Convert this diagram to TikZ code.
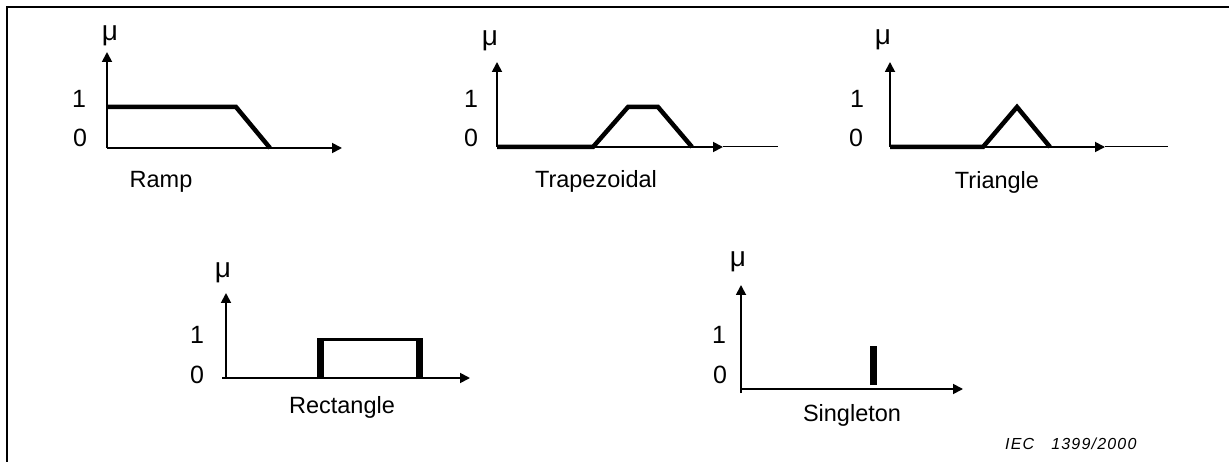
\documentclass[tikz,border=0pt]{standalone}
\usepackage{fontspec}
\setmainfont{Liberation Sans}
\usetikzlibrary{arrows.meta}
\begin{document}
\begin{tikzpicture}[x=1pt,y=-1pt,
  axis/.style={line width=1.8pt,-{Triangle[length=10pt,width=10pt]}},
  fline/.style={line width=4.5pt},
  thinline/.style={line width=1pt},
  lbl/.style={font=\fontsize{23.5}{27}\selectfont,inner sep=0pt,anchor=base},
  digit/.style={font=\fontsize{25}{29}\selectfont,inner sep=0pt,anchor=base},
  mulbl/.style={font=\fontsize{28}{32}\selectfont,inner sep=0pt,anchor=base},
  note/.style={font=\fontsize{16}{19}\selectfont\itshape\addfontfeature{LetterSpace=7.5},inner sep=0pt,anchor=base west}]
\useasboundingbox (0,0) rectangle (1229,462);
% frame
\draw[line width=2pt] (7,462) -- (7,7) -- (1229,7);

% ---- Ramp ----
\coordinate (rO) at (107,148);
\coordinate (rY) at (107,52);
\coordinate (rX) at (342,148);
\draw[axis] (rO) -- (rY);
\draw[axis] (rO) -- (rX);
\draw[fline] (107,107) -- (236,107) -- (270,148);
\node[mulbl] (rmu) at (110,41) {μ};
\node[digit] (r1) at (79,108) {1};
\node[digit] (r0) at (80,147) {0};
\node[lbl] (rname) at (161,188) {Ramp};

% ---- Trapezoidal ----
\coordinate (tO) at (497,147);
\coordinate (tY) at (497,62);
\coordinate (tX) at (723,147);
\coordinate (tE) at (778,147);
\draw[axis] (tO) -- (tY);
\draw[axis] (tO) -- (tX);
\draw[thinline] (tX) -- (tE);
\draw[fline] (497,147) -- (593,147) -- (628,107) -- (658,107) -- (692,147);
\node[mulbl] (tmu) at (490,46) {μ};
\node[digit] (t1) at (471,108) {1};
\node[digit] (t0) at (471,147) {0};
\node[lbl] (tname) at (596,188) {Trapezoidal};

% ---- Triangle ----
\coordinate (gO) at (890,147);
\coordinate (gY) at (890,62);
\coordinate (gX) at (1105,147);
\coordinate (gE) at (1168,147);
\draw[axis] (gO) -- (gY);
\draw[axis] (gO) -- (gX);
\draw[thinline] (gX) -- (gE);
\draw[fline] (890,147) -- (983,147) -- (1017,107) -- (1050,147);
\node[mulbl] (gmu) at (883,45) {μ};
\node[digit] (g1) at (857,108) {1};
\node[digit] (g0) at (856,147) {0};
\node[lbl] (gname) at (997,189) {Triangle};

% ---- Rectangle ----
\coordinate (qO) at (226,378);
\coordinate (qY) at (226,293);
\coordinate (qS) at (222,378);
\coordinate (qX) at (470,378);
\draw[axis] (qO) -- (qY);
\draw[axis] (qS) -- (qX);
\draw[line width=3pt] (320,340) -- (419,340);
\draw[line width=7pt] (320,379) -- (320,338.5);
\draw[line width=7pt] (419,379) -- (419,338.5);
\node[mulbl] (qmu) at (223,278) {μ};
\node[digit] (q1) at (197,343) {1};
\node[digit] (q0) at (197,383) {0};
\node[lbl] (qname) at (342,413) {Rectangle};

% ---- Singleton ----
\coordinate (sO) at (741,393);
\coordinate (sY) at (741,285);
\coordinate (sS) at (741,389);
\coordinate (sX) at (963,389);
\draw[axis] (sO) -- (sY);
\draw[axis] (sS) -- (sX);
\draw[line width=7pt] (873,385) -- (873,346);
\node[mulbl] (smu) at (738,267) {μ};
\node[digit] (s1) at (719,343) {1};
\node[digit] (s0) at (720,383) {0};
\node[lbl] (sname) at (852,421) {Singleton};

\node[note] (iec) at (1005,449) {IEC\hspace{17pt}1399/2000};
\end{tikzpicture}
\end{document}
